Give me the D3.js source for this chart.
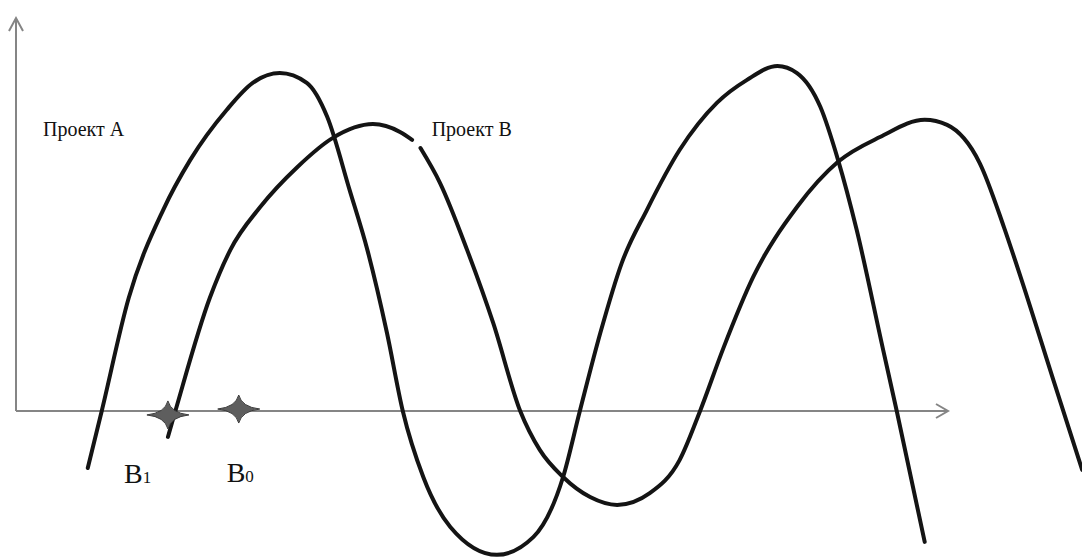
<!DOCTYPE html>
<html>
<head>
<meta charset="utf-8">
<script src="https://cdn.jsdelivr.net/npm/d3@7"></script>
<style>
    body { margin: 0; background: #fff; }
    svg { display: block; }
</style>
</head>
<body>
<div id="chart"></div>
<script>
// Project A: time and value points
const aTime = [7.7, 9.2, 12.1, 15.8, 18.7, 22.6, 25.4, 28.3, 31.2, 33.4, 35.8, 37.7, 39.8, 41.5,
    43.7, 46.6, 51.6, 55.5, 58.7, 60.5, 62.7, 65.0, 67.7, 71.2, 75.2, 78.4, 81.7, 83.8, 86.3,
    88.2, 90.2, 93.0, 94.5, 97.5];
const aValue = [-14.5, 0, 28.8, 51.2, 63.9, 76.6, 83.5, 86.0, 83.5, 74.8, 56.2, 41.0, 19.9, 0,
    -16.8, -29.5, -36.6, -32.1, -16.8, 0, 19.9, 37.7, 51.2, 66.4, 78.4, 84.2, 87.8, 86.0, 77.4,
    63.9, 46.1, 16.0, 0, -33.3];

// Project B: null marks the break in the line under the label
const bTime = [16.3, 17.1, 20.8, 23.0, 26.2, 30.2, 34.0, 38.3, 41.2, 42.5, null,
    43.4, 45.5, 48.4, 51.2, 54.1, 56.2, 58.7, 61.6, 64.5, 68.0, 71.2, 73.4, 75.9, 79.1,
    83.8, 88.2, 92.7, 97.5, 99.9, 103.4, 106.0, 107.9, 111.3, 114.4];
const bValue = [-6.6, 0, 28.8, 41.0, 51.9, 62.1, 69.5, 73.0, 71.0, 69.0, null,
    66.9, 58.0, 41.0, 22.4, 0, -9.9, -16.8, -21.9, -23.9, -20.9, -12.5, 0, 16.0, 34.1,
    51.9, 63.4, 69.7, 74.1, 72.8, 63.1, 46.8, 33.3, 7.9, -15.0];

// Labels
const projectLabels = [
    { text: 'Проект А', t: 2.9, v: 70.0 },
    { text: 'Проект В', t: 44.6, v: 70.0 }
];
const points = [
    { name: 'B', sub: '1', t: 16.3, v: -1.0, lt: 11.6, lv: -18.3 },
    { name: 'B', sub: '0', t: 23.9, v: 0.5, lt: 22.6, lv: -18.1 }
];

const width = 1082;
const height = 559;

const svg = d3.select("#chart")
    .append("svg")
    .attr("width", width)
    .attr("height", height);

const x = d3.scaleLinear().domain([0, 100]).range([16, 948]);
const y = d3.scaleLinear().domain([0, 100]).range([411, 18]);

const axisColor = "#858585";

// axes with open arrow heads
const axes = svg.append("g")
    .attr("stroke", axisColor)
    .attr("stroke-width", 2)
    .attr("fill", "none");

axes.append("line")
    .attr("x1", x(0)).attr("y1", y(0))
    .attr("x2", x(100)).attr("y2", y(0));
axes.append("line")
    .attr("x1", x(0)).attr("y1", y(0))
    .attr("x2", x(0)).attr("y2", y(100));

axes.append("path")
    .attr("d", `M${x(0) - 7},${y(100) + 13} L${x(0)},${y(100)} L${x(0) + 7},${y(100) + 13}`);
axes.append("path")
    .attr("d", `M${x(100) - 12},${y(0) - 7} L${x(100)},${y(0)} L${x(100) - 12},${y(0) + 7}`);

// curves
const line = d3.line()
    .defined(d => d[0] !== null)
    .x(d => x(d[0]))
    .y(d => y(d[1]))
    .curve(d3.curveMonotoneX);

const seriesA = aTime.map((t, i) => [t, aValue[i]]);
const seriesB = bTime.map((t, i) => [t, bValue[i]]);

svg.selectAll(".curve")
    .data([seriesA, seriesB])
    .enter().append("path")
    .attr("class", "curve")
    .attr("d", line)
    .attr("fill", "none")
    .attr("stroke", "#141414")
    .attr("stroke-width", 4)
    .attr("stroke-linecap", "round");

// project names
svg.selectAll(".project")
    .data(projectLabels)
    .enter().append("text")
    .attr("class", "project")
    .attr("x", d => x(d.t))
    .attr("y", d => y(d.v))
    .attr("font-family", "'Liberation Serif', serif")
    .attr("font-size", 20)
    .attr("fill", "#111")
    .text(d => d.text);

// four-pointed stars on the axis
const star = "M-21,0 Q-3,-2 0,-14 Q3,-2 21,0 Q3,2 0,14 Q-3,2 -21,0 Z";

svg.selectAll(".star")
    .data(points)
    .enter().append("path")
    .attr("class", "star")
    .attr("d", star)
    .attr("transform", d => `translate(${x(d.t)},${y(d.v)})`)
    .attr("fill", "#5e5e5e")
    .attr("stroke", "#3a3a3a")
    .attr("stroke-width", 1);

const pointLabels = svg.selectAll(".point-label")
    .data(points)
    .enter().append("text")
    .attr("class", "point-label")
    .attr("x", d => x(d.lt))
    .attr("y", d => y(d.lv))
    .attr("font-family", "'Liberation Serif', serif")
    .attr("fill", "#111");

pointLabels.append("tspan")
    .attr("font-size", 28)
    .text(d => d.name);
pointLabels.append("tspan")
    .attr("font-size", 17)
    .text(d => d.sub);
</script>
</body>
</html>
